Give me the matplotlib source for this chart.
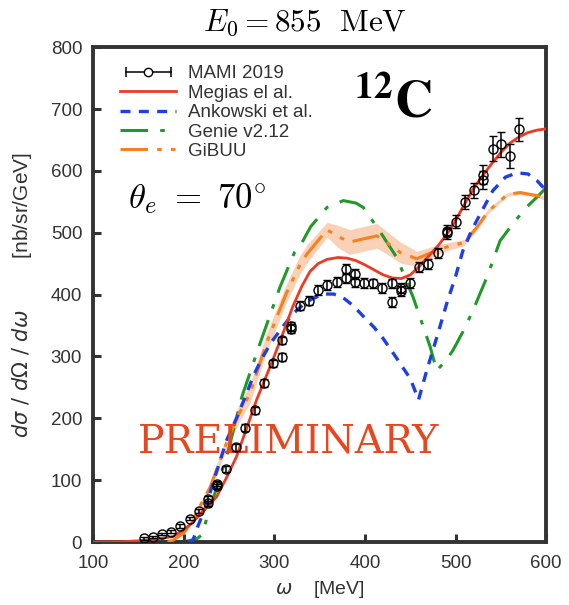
import matplotlib
matplotlib.use("Agg")
import matplotlib.pyplot as plt
from matplotlib.lines import Line2D
from matplotlib.legend_handler import HandlerLine2D, HandlerTuple
import numpy as np

plt.rcParams["font.family"] = ["Liberation Sans", "DejaVu Sans"]

# MAMI 2019 data (omega [MeV], cross section [nb/sr/GeV], error)
mami_x = [156, 166, 176, 186, 196, 207, 217, 227, 227, 237, 237, 247, 257, 267, 278,
          288, 298, 308, 308, 318, 318, 328, 338, 348, 358, 369, 379, 379, 389, 389,
          399, 409, 419, 430, 430, 440, 440, 450, 460, 470, 480, 490, 490, 500, 510,
          520, 530, 530, 541, 550, 560, 570]
mami_y = [6, 8, 13, 17, 26, 38, 50, 63, 70, 90, 94, 118, 153, 185, 213,
          257, 289, 299, 326, 345, 349, 382, 390, 408, 415, 421, 427, 442, 434, 421,
          419, 418, 411, 418, 388, 406, 410, 419, 444, 450, 467, 499, 503, 518, 550,
          569, 585, 594, 636, 643, 624, 667]
mami_err = [2, 2, 2, 2, 3, 3, 3, 4, 4, 4, 4, 5, 5, 6, 6,
            6, 6, 6, 6, 7, 7, 7, 7, 8, 8, 8, 8, 8, 8, 8,
            8, 8, 8, 8, 8, 8, 8, 8, 8, 8, 8, 9, 9, 10, 11,
            12, 15, 15, 20, 20, 19, 19]

# Megias et al.
megias_x = [100, 130, 150, 170, 188, 200, 210, 222, 236, 247, 258, 270, 280, 290, 298,
            310, 320, 330, 339, 348, 358, 370, 380, 390, 400, 410, 420, 430, 440, 450,
            460, 470, 480, 490, 500, 510, 520, 530, 540, 550, 560, 570, 580, 590, 600]
megias_y = [0, 0.5, 2, 5, 9, 20, 32, 52, 73, 104, 138, 187, 229, 265, 294,
            340, 380, 413, 437, 450, 457, 460, 459, 455, 448, 440, 432, 427, 426, 432,
            446, 462, 478, 497, 520, 547, 572, 593, 612, 630, 645, 655, 662, 666, 668]

# Ankowski et al.
ank_x = [205, 210, 215, 225, 232, 247, 258, 267, 277, 287, 296, 306, 317, 326, 340,
         354, 365, 375, 387, 400, 410, 420, 435, 450, 459, 468, 480, 490, 500, 508,
         518, 527, 541, 555, 568, 580, 590, 600]
ank_y = [0, 3, 24, 60, 95, 164, 200, 232, 270, 299, 322, 342, 363, 377, 392,
         401, 401, 396, 382, 362, 347, 329, 297, 264, 230, 277, 335, 385, 430, 471,
         505, 530, 568, 590, 597, 595, 584, 568]

# Genie v2.12
genie_x = [190, 205, 215, 220, 229, 238, 249, 264, 284, 306, 322, 328, 340, 358, 376,
           390, 398, 416, 435, 453, 465, 472, 479, 490, 497, 508, 519, 535, 549, 565,
           578, 590, 600]
genie_y = [0, 2, 6, 12, 57, 95, 148, 235, 321, 412, 468, 478, 510, 541, 552,
           548, 541, 503, 460, 396, 345, 315, 277, 295, 310, 340, 374, 430, 487, 518,
           541, 558, 573]

# GiBUU with uncertainty band
gibuu_x = [182, 188, 200, 210, 229, 247, 260, 273, 291, 313, 328, 336, 358, 370, 383,
           398, 413, 426, 439, 457, 470, 483, 495, 509, 523, 536, 557, 571, 590, 600]
gibuu_y = [0, 3, 15, 37, 89, 160, 205, 240, 321, 402, 448, 466, 505, 494, 485,
           490, 495, 482, 468, 458, 466, 474, 479, 484, 508, 535, 562, 565, 560, 555]
gibuu_err = [0, 1, 3, 5, 7, 10, 14, 15, 15, 15, 15, 15, 12, 18, 20,
             20, 20, 18, 17, 12, 10, 7, 6, 5, 5, 4, 3, 3, 3, 3]

C_RED = "#ee3a22"
C_BLUE = "#1f3fe6"
C_GREEN = "#1f9a2a"
C_ORANGE = "#f5821f"
C_BAND = "#f9c9a9"
C_AX = "#333333"

fig = plt.figure(figsize=(5.69, 6.05), dpi=100, facecolor="white")
ax = fig.add_axes([0.164, 0.104, 0.796, 0.818])

gy = np.array(gibuu_y)
ge = np.array(gibuu_err)
ax.fill_between(gibuu_x, gy - ge, gy + ge, color=C_BAND, alpha=0.85, lw=0, zorder=1)

ax.plot(genie_x, genie_y, color=C_GREEN, lw=2.2, dashes=(9, 4, 1.5, 4), zorder=2)
ax.plot(gibuu_x, gibuu_y, color=C_ORANGE, lw=2.2, dashes=(9, 3, 1.5, 3, 1.5, 3), zorder=3)
ax.plot(ank_x, ank_y, color=C_BLUE, lw=2.4, dashes=(3, 2.5), zorder=3)
ax.plot(megias_x, megias_y, color=C_RED, lw=2.0, zorder=4)

ax.errorbar(mami_x, mami_y, yerr=mami_err, fmt="o", ms=6.5, mfc="none", mec="black",
            mew=1.0, ecolor="black", elinewidth=1.1, capsize=3, capthick=1.1, zorder=5)

ax.set_xlim(100, 600)
ax.set_ylim(0, 800)
ax.set_xticks([100, 200, 300, 400, 500, 600])
ax.set_yticks(range(0, 801, 100))
ax.tick_params(direction="in", length=6, width=2.2, color=C_AX, labelcolor=C_AX,
               labelsize=13.5, top=False, right=False)
ax.tick_params(axis="x", pad=9)
ax.tick_params(axis="y", pad=8)
for sp in ax.spines.values():
    sp.set_linewidth(2.8)
    sp.set_color(C_AX)

ax.set_xlabel(r"$\omega$    [MeV]", fontsize=14, color=C_AX, labelpad=5)
ax.set_ylabel(r"$d\sigma\ /\ d\Omega\ /\ d\omega$" + "         [nb/sr/GeV]", fontsize=15,
              color=C_AX, labelpad=12)

fig.text(0.536, 0.95, r"$E_0 = 855\ \ \mathrm{MeV}$", fontsize=22.5, ha="center",
         va="baseline", math_fontfamily="cm")

ax.text(0.076, 0.675, r"$\theta_e\ =\ 70^{\circ}$", fontsize=25, transform=ax.transAxes,
        math_fontfamily="cm", va="baseline")
ax.text(0.576, 0.857, r"$\mathbf{^{12}C}$", fontsize=38, transform=ax.transAxes,
        math_fontfamily="stix", va="baseline")
ax.text(0.098, 0.18, "PRELIMINARY", fontsize=28.5, family="DejaVu Serif",
        color="#e8461e", transform=ax.transAxes, va="baseline")

# legend
cap_line = Line2D([], [], color="black", lw=1.1, marker="|", ms=7, mew=1.1)
dot_line = Line2D([], [], ls="none", marker="o", ms=6, mfc="white", mec="black", mew=1.0)
h_meg = Line2D([], [], color=C_RED, lw=2.0)
h_ank = Line2D([], [], color=C_BLUE, lw=2.4, dashes=(3, 2.5))
h_gen = Line2D([], [], color=C_GREEN, lw=2.2, dashes=(9, 4, 1.5, 4))
h_gib = Line2D([], [], color=C_ORANGE, lw=2.2, dashes=(9, 3, 1.5, 3, 1.5, 3))
leg = ax.legend([(cap_line, dot_line), h_meg, h_ank, h_gen, h_gib],
                ["MAMI 2019", "Megias el al.", "Ankowski et al.", "Genie v2.12", "GiBUU"],
                handler_map={cap_line: HandlerLine2D(numpoints=2),
                             dot_line: HandlerLine2D(numpoints=1),
                             tuple: HandlerTuple(ndivide=1)},
                loc="upper left", bbox_to_anchor=(0.03, 0.99), frameon=False,
                fontsize=13.5, handlelength=3.0, handletextpad=0.6, labelspacing=0.12,
                borderpad=0.2)
for t in leg.get_texts():
    t.set_color(C_AX)

fig.savefig("out.png", dpi=100, facecolor="white")
